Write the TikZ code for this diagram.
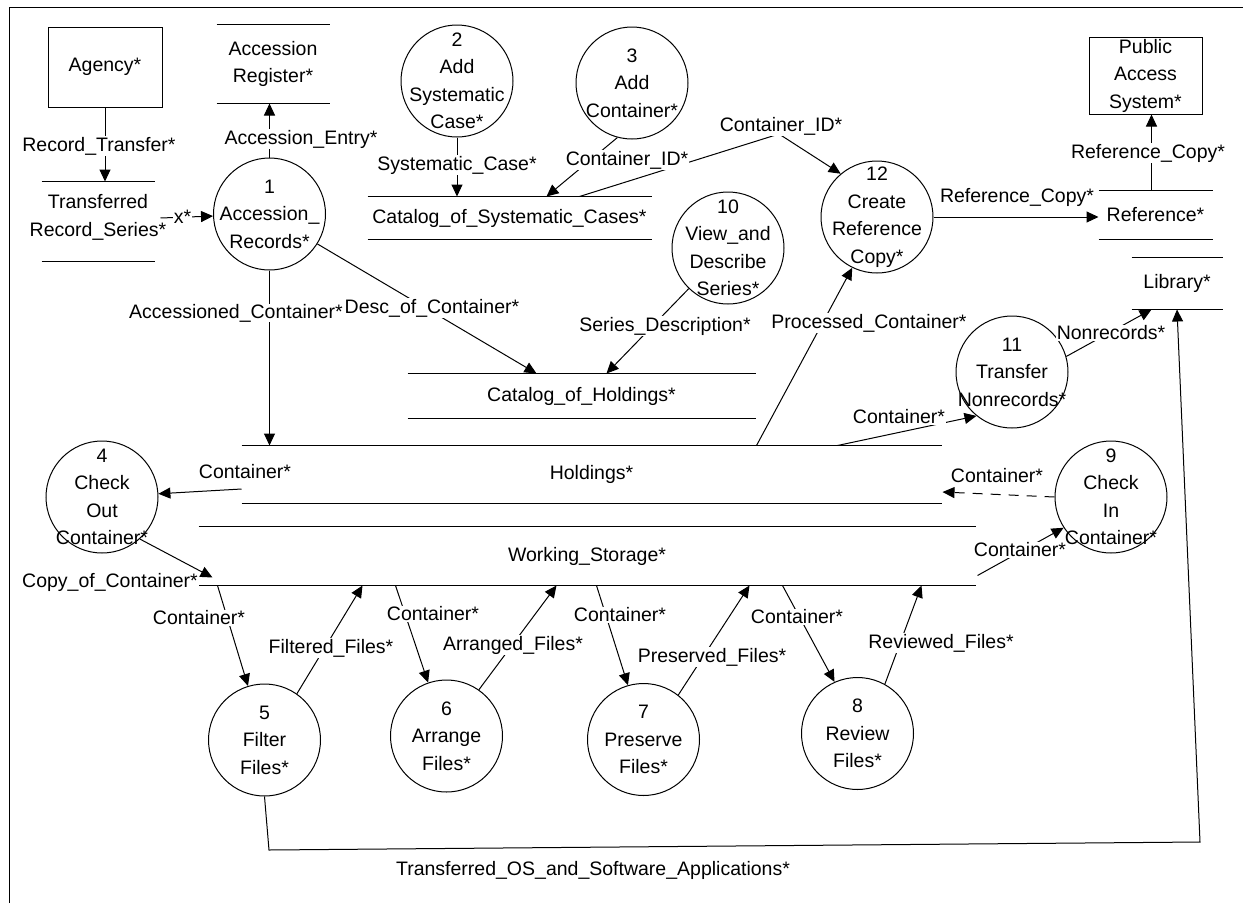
\documentclass[tikz,border=0pt]{standalone}
\usepackage{fontspec}
\setmainfont{Liberation Sans}
\usetikzlibrary{arrows.meta,calc}
\begin{document}
\begin{tikzpicture}[x=1pt,y=-1pt,line width=1pt,
  every node/.style={font=\fontsize{19.5}{27.5}\selectfont},
  ext/.style={draw, rectangle, inner sep=0pt},
  proc/.style={draw, circle, minimum size=112pt, inner sep=0pt},
  ptext/.style={align=center, inner sep=0pt},
  pt/.style={label={[ptext]center:{#1}}},
  store/.style={inner sep=0pt, append after command={(\tikzlastnode.north west) edge (\tikzlastnode.north east) (\tikzlastnode.south west) edge (\tikzlastnode.south east)}},
  flow/.style={-{Triangle[length=12pt,width=11pt]}},
  lab/.style={fill=white, inner sep=1pt}]
\useasboundingbox (0,0) rectangle (1243,903);
\draw (9,903) -- (9,7) -- (1243,7);

% external entities
\node[ext, minimum width=114pt, minimum height=80pt] (agency) at (105,67) {Agency*};
\node[ext, minimum width=113pt, minimum height=77pt, pt={Public\\Access\\System*}] (pas) at (1145.5,75.5) {};

% data stores
\node[store, minimum width=112pt, minimum height=78pt, pt={Accession\\Register*}] (reg) at (273,64) {};
\node[store, minimum width=112pt, minimum height=79pt, label={[ptext,yshift=4pt]center:{Transferred\\Record\_Series*}}] (trs) at (98,221.5) {};
\node[store, minimum width=283pt, minimum height=42pt, pt={Catalog\_of\_Systematic\_Cases*}] (cat) at (509.5,218) {};
\node[store, minimum width=113pt, minimum height=48pt, pt={Reference*}] (ref) at (1155.5,215) {};
\node[store, minimum width=90pt, minimum height=51pt, pt={Library*}] (lib) at (1177,283.5) {};
\node[store, minimum width=347pt, minimum height=44pt, pt={Catalog\_of\_Holdings*}] (coh) at (581.5,396) {};
\node[store, minimum width=699pt, minimum height=57pt, pt={Holdings*}] (hold) at (591.5,474.5) {};
\node[store, minimum width=776pt, minimum height=58pt, pt={Working\_Storage*}] (ws) at (587,556) {};

% processes
\node[proc, pt={1\\Accession\_\\Records*}] (p1) at (269.5,214) {};
\node[proc, pt={2\\Add\\Systematic\\Case*}] (p2) at (457,81) {};
\node[proc, pt={3\\Add\\Container*}] (p3) at (632,83) {};
\node[proc, pt={4\\Check\\Out\\Container*}] (p4) at (102,497) {};
\node[proc, pt={5\\Filter\\Files*}] (p5) at (264.5,740) {};
\node[proc, pt={6\\Arrange\\Files*}] (p6) at (446.5,736) {};
\node[proc, pt={7\\Preserve\\Files*}] (p7) at (643.5,739.5) {};
\node[proc, pt={8\\Review\\Files*}] (p8) at (857.5,733.5) {};
\node[proc, pt={9\\Check\\In\\Container*}] (p9) at (1111,497) {};
\node[proc, pt={10\\View\_and\\Describe\\Series*}] (p10) at (728,248) {};
\node[proc, pt={11\\Transfer\\Nonrecords*}] (p11) at (1012,372) {};
\node[proc, pt={12\\Create\\Reference\\Copy*}] (p12) at (877,217) {};

% connectors
\draw[flow] (agency.south) -- (agency.south |- trs.north);
\draw[flow] ($(trs.east)+(6,-3.5)$) -- (p1);
\draw[flow] (p1.north) -- (p1.north |- reg.south);
\draw[flow] (p2.south) -- (p2.south |- cat.north);
\draw[flow] (p3.255) -- ($(cat.north west)+(179,0)$);
\coordinate (b12) at (779,134);
\draw[flow] ($(cat.north west)+(212,0)$) -- (b12) -- (p12.130);
\draw[flow] (p12.east) -- (p12.east -| ref.west);
\draw[flow] ($(ref.north)+(-4,0)$) -- ($(pas.south)+(6,0)$);
\draw[flow] (p1.328) -- ($(coh.north west)+(129,0)$);
\draw[flow] (p10.226) -- ($(coh.north west)+(199,0)$);
\draw[flow] (p1.south) -- (p1.south |- hold.north);
\draw[flow] ($(hold.west)+(0,14.5)$) -- (p4);
\draw[flow] (p4.312) -- ($(ws.south west)+(14,-8)$);
\draw[flow, dash pattern=on 10pt off 8pt] (p9.west) -- ($(hold.east)+(1,17.5)$);
\draw[flow] ($(ws.south east)+(2,-10)$) -- (p9.213);
\draw[flow] ($(hold.north east)+(-104,0)$) -- (p11.231);
\draw[flow] ($(hold.north west)+(515,0)$) -- (p12.244);
\draw[flow] (p11.16) -- ($(lib.south west)+(20,0)$);
\coordinate (t1) at (269,850);
\coordinate (t2) at (1200,842);
\draw[flow] (p5.south) -- (t1) -- (t2) -- (lib.south);
\draw[flow] ($(ws.south west)+(19,0)$) -- (p5.107);
\draw[flow] (p5.55) -- ($(ws.south west)+(164,0)$);
\draw[flow] ($(ws.south west)+(197,0)$) -- (p6.109);
\draw[flow] (p6.55) -- ($(ws.south west)+(358,0)$);
\draw[flow] ($(ws.south west)+(398,0)$) -- (p7.106);
\draw[flow] (p7.52) -- ($(ws.south west)+(551,0)$);
\draw[flow] ($(ws.south west)+(584,0)$) -- (p8.114);
\draw[flow] (p8.61) -- ($(ws.south west)+(723,0)$);

% flow labels
\node[lab] (l1) at (99,146) {Record\_Transfer*};
\node[lab] (l2) at (182.5,217) {x*};
\node[lab] (l3) at (301,139) {Accession\_Entry*};
\node[lab] (l4) at (457,165) {Systematic\_Case*};
\node[lab] (l5) at (627,160) {Container\_ID*};
\node[lab] (l6) at (781,126) {Container\_ID*};
\node[lab] (l7) at (1017,197) {Reference\_Copy*};
\node[lab] (l8) at (1148,153) {Reference\_Copy*};
\node[lab] (l9) at (432,308) {Desc\_of\_Container*};
\node[lab, inner sep=0pt] (l11) at (236,313) {Accessioned\_Container*};
\node[lab] (l10) at (665,326) {Series\_Description*};
\node[lab] (l12) at (245,472) {Container*};
\node[lab] (l13) at (110,582) {Copy\_of\_Container*};
\node[lab] (l14) at (997,476) {Container*};
\node[lab] (l15) at (1020,550) {Container*};
\node[lab] (l16) at (899,417) {Container*};
\node[lab] (l17) at (869,323) {Processed\_Container*};
\node[lab] (l18) at (1111,333) {Nonrecords*};
\node[lab] (l19) at (593,870) {Transferred\_OS\_and\_Software\_Applications*};
\node[lab] (l20) at (199,618) {Container*};
\node[lab] (l21) at (331,648) {Filtered\_Files*};
\node[lab] (l22) at (433,614) {Container*};
\node[lab] (l23) at (513,645) {Arranged\_Files*};
\node[lab] (l24) at (620,615) {Container*};
\node[lab] (l25) at (712,657) {Preserved\_Files*};
\node[lab] (l26) at (797,617) {Container*};
\node[lab] (l27) at (941,643) {Reviewed\_Files*};
\end{tikzpicture}
\end{document}
